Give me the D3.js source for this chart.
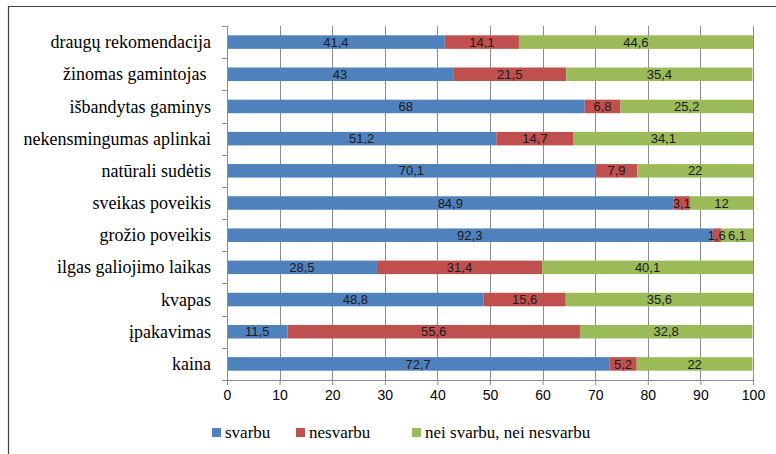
<!DOCTYPE html>
<html>
<head>
<meta charset="utf-8">
<script src="https://cdn.jsdelivr.net/npm/d3@7"></script>
<style>
  body { margin: 0; background: #fff; }
</style>
</head>
<body>
<div id="chart"></div>
<script>
// Stacked horizontal bars - purchase factors

const categories = ["draugų rekomendacija", "žinomas gamintojas ", "išbandytas gaminys",
    "nekensmingumas aplinkai", "natūrali sudėtis", "sveikas poveikis", "grožio poveikis",
    "ilgas galiojimo laikas", "kvapas", "įpakavimas", "kaina"];
const svarbu = [41.4, 43, 68, 51.2, 70.1, 84.9, 92.3, 28.5, 48.8, 11.5, 72.7];
const nesvarbu = [14.1, 21.5, 6.8, 14.7, 7.9, 3.1, 1.6, 31.4, 15.6, 55.6, 5.2];
const neiNei = [44.6, 35.4, 25.2, 34.1, 22, 12, 6.1, 40.1, 35.6, 32.8, 22];
const seriesNames = ["svarbu", "nesvarbu", "nei svarbu, nei nesvarbu"];
const xTicks = [0, 10, 20, 30, 40, 50, 60, 70, 80, 90, 100];

const width = 776;
const height = 454;
const margin = {top: 26, right: 23, bottom: 74, left: 227};
const colors = ["#4F81BD", "#C0504D", "#9BBB59"];
const serif = '"Liberation Serif"';
const sans = '"Liberation Sans"';

const svg = d3.select("#chart")
    .append("svg")
    .attr("width", width)
    .attr("height", height);

// frame
svg.append("path")
    .attr("d", `M8.5,${height} V6.5 H${width}`)
    .attr("fill", "none")
    .attr("stroke", "#404040")
    .attr("stroke-width", 1.2);

const inner = svg.append("g")
    .attr("transform", `translate(${margin.left}, ${margin.top})`);

const innerWidth = width - margin.left - margin.right;
const innerHeight = height - margin.top - margin.bottom;

const xScale = d3.scaleLinear()
    .domain([0, 100])
    .range([0, innerWidth]);

const yScale = d3.scaleBand()
    .domain(categories)
    .range([0, innerHeight])
    .paddingInner(0.58)
    .paddingOuter(0.29);

// gridlines
inner.append("g")
    .selectAll("line")
    .data(xTicks.slice(1))
    .join("line")
    .attr("x1", d => Math.round(xScale(d)) + 0.5)
    .attr("x2", d => Math.round(xScale(d)) + 0.5)
    .attr("y1", 0)
    .attr("y2", innerHeight)
    .attr("stroke", "#8c8c8c")
    .attr("stroke-width", 1);

const rows = categories.map((c, i) => ({
    cat: c,
    values: [svarbu[i], nesvarbu[i], neiNei[i]]
}));

const segs = [];
rows.forEach(r => {
    let x0 = 0;
    r.values.forEach((v, k) => {
        segs.push({cat: r.cat, k: k, v: v, x0: x0, x1: x0 + v});
        x0 += v;
    });
});

inner.append("g")
    .selectAll("rect")
    .data(segs)
    .join("rect")
    .attr("x", d => xScale(d.x0))
    .attr("width", d => xScale(Math.min(d.x1, 100)) - xScale(d.x0))
    .attr("y", d => yScale(d.cat))
    .attr("height", yScale.bandwidth())
    .attr("fill", d => colors[d.k]);

const fmt = v => String(v).replace(".", ",");

inner.append("g")
    .selectAll("text")
    .data(segs)
    .join("text")
    .attr("x", d => xScale((d.x0 + Math.min(d.x1, 100)) / 2))
    .attr("y", d => yScale(d.cat) + yScale.bandwidth() / 2)
    .attr("dy", "0.36em")
    .attr("text-anchor", "middle")
    .style("font-family", sans)
    .style("font-size", "13px")
    .style("fill", "#1a1a1a")
    .text(d => fmt(d.v));

// x axis
const xAxis = d3.axisBottom(xScale).tickValues(xTicks).tickSize(5).tickPadding(5);
const gx = inner.append("g")
    .attr("transform", `translate(0, ${innerHeight})`)
    .call(xAxis);
gx.select(".domain").attr("stroke", "#8c8c8c");
gx.selectAll(".tick line").attr("stroke", "#8c8c8c");
gx.selectAll("text")
    .style("font-family", sans)
    .style("font-size", "14px")
    .style("fill", "#000");

// y axis: line with ticks at band boundaries
inner.append("line")
    .attr("x1", 0.5).attr("x2", 0.5)
    .attr("y1", 0).attr("y2", innerHeight + 5)
    .attr("stroke", "#8c8c8c");

const step = yScale.step();
inner.append("g")
    .selectAll("line")
    .data(d3.range(categories.length + 1))
    .join("line")
    .attr("x1", -5).attr("x2", 0)
    .attr("y1", i => Math.round(i * step) + 0.5)
    .attr("y2", i => Math.round(i * step) + 0.5)
    .attr("stroke", "#8c8c8c");

inner.append("g")
    .selectAll("text")
    .data(categories)
    .join("text")
    .attr("x", -16)
    .attr("y", d => yScale(d) + yScale.bandwidth() / 2)
    .attr("dy", "0.34em")
    .attr("text-anchor", "end")
    .style("font-family", serif)
    .style("font-size", "18px")
    .style("white-space", "pre")
    .text(d => d);

// legend
const legendX = [212, 296, 412];
const legend = svg.append("g")
    .attr("transform", "translate(0, 433)");
const item = legend.selectAll("g")
    .data(seriesNames)
    .join("g")
    .attr("transform", (d, i) => `translate(${legendX[i]}, 0)`);
item.append("rect")
    .attr("x", 0).attr("y", -5)
    .attr("width", 9).attr("height", 9)
    .attr("fill", (d, i) => colors[i]);
item.append("text")
    .attr("x", 13)
    .attr("dy", "0.32em")
    .style("font-family", serif)
    .style("font-size", "17px")
    .text(d => d);
</script>
</body>
</html>
